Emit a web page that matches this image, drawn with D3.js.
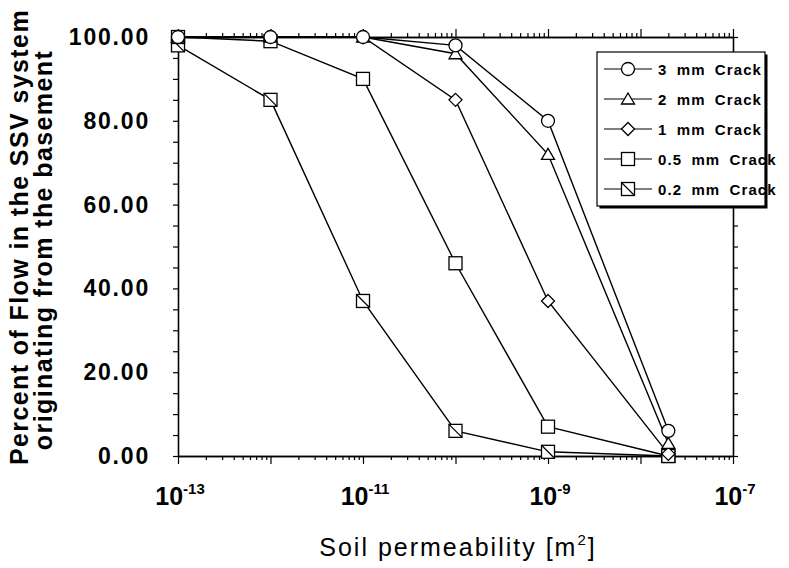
<!DOCTYPE html>
<html><head><meta charset="utf-8">
<script src="https://cdn.jsdelivr.net/npm/d3@7"></script>
<style>body{margin:0;background:#fff}svg{display:block}</style>
</head><body>
<svg id="c" width="789" height="568"></svg>
<script>
const permeability = [1e-13, 1e-12, 1e-11, 1e-10, 1e-9, 2e-8];
const crack3mm  = [100, 100, 100, 98, 80, 6];
const crack2mm  = [100, 100, 100, 96, 72, 3];
const crack1mm  = [100, 100, 100, 85, 37, 0.5];
const crack05mm = [100, 99, 90, 46, 7, 0];
const crack02mm = [98, 85, 37, 6, 1, 0];
const seriesNames = ["3 mm Crack", "2 mm Crack", "1 mm Crack", "0.5 mm Crack", "0.2 mm Crack"];
const markerTypes = ["circle", "triangle", "diamond", "square", "crossSquare"];
const yTicks = [0, 20, 40, 60, 80, 100];
const yTickLabels = ["0.00", "20.00", "40.00", "60.00", "80.00", "100.00"];
const xTickExponents = [-13, -11, -9, -7];
const yTitleLines = ["Percent of Flow in the SSV system", "originating from the basement"];

const seriesValues = [crack3mm, crack2mm, crack1mm, crack05mm, crack02mm];

const svg = d3.select("#c");
const x = d3.scaleLog().domain([1e-13, 1e-7]).range([178, 733]);
const y = d3.scaleLinear().domain([0, 100]).range([456, 37]);

const decades = d3.range(-13, -6).map(e => Math.pow(10, e));
const minors = [];
d3.range(-13, -7).forEach(e => { for (let k = 2; k <= 9; k++) minors.push(k * Math.pow(10, e)); });
const yMinor = d3.range(0, 101, 5);

function styleAxis(g) {
  g.selectAll("path.domain").attr("stroke", "#000").attr("stroke-width", 1.6);
  g.selectAll(".tick line").attr("stroke", "#000").attr("stroke-width", 1.2);
  g.selectAll(".tick text").remove();
}
const [X0, X1] = x.range();
const [Y0, Y1] = y.range();
svg.append("g").attr("transform", `translate(0,${Y0})`)
  .call(d3.axisBottom(x).tickValues(minors).tickSize(4).tickSizeOuter(0)).call(styleAxis);
svg.append("g").attr("transform", `translate(0,${Y0})`)
  .call(d3.axisBottom(x).tickValues(decades).tickSize(8).tickSizeOuter(0)).call(styleAxis);
svg.append("g").attr("transform", `translate(0,${Y1})`)
  .call(d3.axisTop(x).tickValues(minors).tickSize(4).tickSizeOuter(0)).call(styleAxis);
svg.append("g").attr("transform", `translate(0,${Y1})`)
  .call(d3.axisTop(x).tickValues(decades).tickSize(8).tickSizeOuter(0)).call(styleAxis);
svg.append("g").attr("transform", `translate(${X0},0)`)
  .call(d3.axisLeft(y).tickValues(yMinor).tickSize(5).tickSizeOuter(0)).call(styleAxis);
svg.append("g").attr("transform", `translate(${X1},0)`)
  .call(d3.axisRight(y).tickValues(yMinor).tickSize(5).tickSizeOuter(0)).call(styleAxis);

svg.append("g").selectAll("text").data(yTicks).join("text")
  .attr("x", 150).attr("y", d => y(d) + 8)
  .attr("text-anchor", "end")
  .attr("font-family", "Liberation Sans, Arial, sans-serif")
  .attr("font-weight", "bold").attr("font-size", 23).attr("letter-spacing", 1.8)
  .text((d, i) => yTickLabels[i]);

const xl = svg.append("g").selectAll("text").data(xTickExponents).join("text")
  .attr("x", d => x(Math.pow(10, d)) + 2).attr("y", 505)
  .attr("text-anchor", "middle")
  .attr("font-family", "Liberation Sans, Arial, sans-serif")
  .attr("font-weight", "bold").attr("font-size", 25);
xl.append("tspan").text("10");
xl.append("tspan").attr("font-size", 15).attr("dy", -11).text(d => d);

svg.append("text")
  .attr("x", 458).attr("y", 556).attr("text-anchor", "middle")
  .attr("font-family", "Liberation Sans, Arial, sans-serif")
  .attr("font-size", 25).attr("letter-spacing", 2)
  .call(t => {
    t.append("tspan").text("Soil permeability [m");
    t.append("tspan").attr("font-size", 15).attr("dy", -11).text("2");
    t.append("tspan").attr("dy", 11).text("]");
  });
svg.append("g").selectAll("text").data(yTitleLines).join("text")
  .attr("transform", (d, i) => `translate(${i === 0 ? 28 : 52},${i === 0 ? 237 : 250}) rotate(-90)`)
  .attr("text-anchor", "middle")
  .attr("font-family", "Liberation Sans, Arial, sans-serif")
  .attr("font-weight", "bold").attr("font-size", 25).attr("letter-spacing", 1.4)
  .text(d => d);

function drawMarker(g, type, cx, cy) {
  const common = s => s.attr("fill", "#fff").attr("stroke", "#000").attr("stroke-width", 1.3);
  if (type === "circle") {
    g.append("circle").attr("cx", cx).attr("cy", cy).attr("r", 6.5).call(common);
  } else if (type === "triangle") {
    g.append("path").attr("d", `M${cx},${cy - 6}L${cx + 6.5},${cy + 5}L${cx - 6.5},${cy + 5}Z`).call(common);
  } else if (type === "diamond") {
    g.append("path").attr("d", `M${cx},${cy - 6.5}L${cx + 6.5},${cy}L${cx},${cy + 6.5}L${cx - 6.5},${cy}Z`).call(common);
  } else if (type === "square") {
    g.append("rect").attr("x", cx - 6.5).attr("y", cy - 6.5).attr("width", 13).attr("height", 13).call(common);
  } else {
    g.append("rect").attr("x", cx - 6.5).attr("y", cy - 6.5).attr("width", 13).attr("height", 13).call(common);
    g.append("line").attr("x1", cx - 6.5).attr("y1", cy - 6.5).attr("x2", cx + 6.5).attr("y2", cy + 6.5)
      .attr("stroke", "#000").attr("stroke-width", 1.3);
  }
}

const line = d3.line().x(d => x(d[0])).y(d => y(d[1]));
const plot = svg.append("g");
seriesValues.forEach((vals) => {
  const pts = permeability.map((p, i) => [p, vals[i]]);
  plot.append("path").attr("d", line(pts)).attr("fill", "none")
    .attr("stroke", "#000").attr("stroke-width", 1.4);
});
seriesValues.slice().reverse().forEach((vals, ri) => {
  const si = seriesValues.length - 1 - ri;
  const g = plot.append("g");
  permeability.forEach((p, i) => drawMarker(g, markerTypes[si], x(p), y(vals[i])));
});

const lg = svg.append("g").attr("transform", "translate(597,52)");
const LW = 168, LH = 154;
lg.append("rect").attr("x", 2.5).attr("y", 2.5).attr("width", LW).attr("height", LH).attr("fill", "#000");
lg.append("rect").attr("x", 0).attr("y", 0).attr("width", LW).attr("height", LH)
  .attr("fill", "#fff").attr("stroke", "#000").attr("stroke-width", 1.2);
seriesNames.forEach((name, i) => {
  const ry = 17 + i * 30;
  const row = lg.append("g");
  row.append("line").attr("x1", 7).attr("x2", 55).attr("y1", ry).attr("y2", ry)
    .attr("stroke", "#000").attr("stroke-width", 1.2);
  drawMarker(row, markerTypes[i], 31, ry);
  row.append("text").attr("x", 61).attr("y", ry + 5.5)
    .attr("font-family", "Liberation Sans, Arial, sans-serif")
    .attr("font-weight", "bold").attr("font-size", 15)
    .attr("letter-spacing", 1.1).attr("word-spacing", 4)
    .text(name);
});
</script>
</body></html>
